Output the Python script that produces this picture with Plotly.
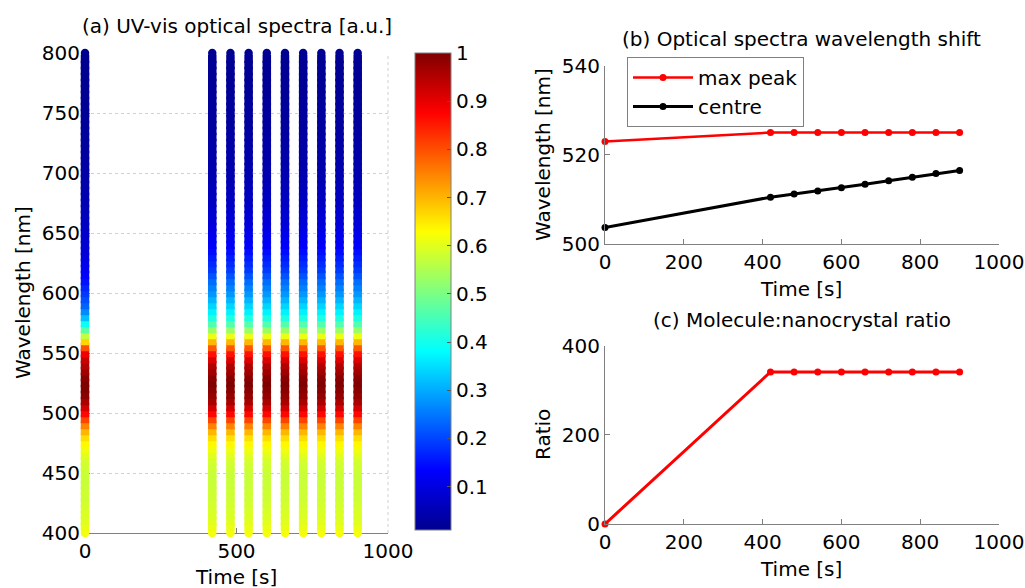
import plotly.graph_objects as go

# ---------------- data ----------------
times = [0, 420, 480, 540, 600, 660, 720, 780, 840, 900]

wavelengths = list(range(400, 801, 5))

# normalised UV-vis spectrum at t = 0 s (400..800 nm, 5 nm step)
spectrum_t0 = [
    0.62, 0.61, 0.60, 0.595, 0.59, 0.585, 0.58, 0.58, 0.575, 0.575,
    0.575, 0.58, 0.585, 0.60, 0.615, 0.635, 0.66, 0.70, 0.75, 0.81,
    0.87, 0.92, 0.96, 0.99, 1.00, 1.00, 0.99, 0.97, 0.95, 0.93,
    0.89, 0.80, 0.67, 0.57, 0.47, 0.39, 0.32, 0.27, 0.23, 0.21,
    0.19, 0.17, 0.15, 0.135, 0.12, 0.11, 0.10, 0.09, 0.085, 0.08,
    0.075, 0.07, 0.065, 0.06, 0.055, 0.05, 0.047, 0.044, 0.041, 0.038,
    0.036, 0.034, 0.032, 0.030, 0.028, 0.026, 0.024, 0.022, 0.021, 0.020,
    0.019, 0.018, 0.017, 0.016, 0.015, 0.014, 0.013, 0.012, 0.011, 0.010,
    0.010,
]

# normalised UV-vis spectrum for the later measurements (420..900 s)
spectrum_later = [
    0.62, 0.61, 0.60, 0.595, 0.59, 0.585, 0.58, 0.58, 0.575, 0.575,
    0.575, 0.58, 0.585, 0.60, 0.615, 0.635, 0.66, 0.70, 0.75, 0.81,
    0.87, 0.92, 0.96, 0.98, 0.99, 1.00, 0.99, 0.97, 0.95, 0.91,
    0.86, 0.79, 0.70, 0.61, 0.53, 0.46, 0.41, 0.37, 0.34, 0.31,
    0.28, 0.26, 0.24, 0.215, 0.19, 0.175, 0.16, 0.145, 0.13, 0.12,
    0.11, 0.10, 0.09, 0.085, 0.08, 0.07, 0.065, 0.06, 0.055, 0.05,
    0.045, 0.042, 0.040, 0.038, 0.036, 0.034, 0.032, 0.030, 0.028, 0.026,
    0.025, 0.024, 0.022, 0.020, 0.019, 0.018, 0.017, 0.016, 0.015, 0.014,
    0.013,
]

max_peak = [523.0, 525.0, 525.0, 525.0, 525.0, 525.0, 525.0, 525.0, 525.0, 525.0]
centre = [503.7, 510.5, 511.2, 511.9, 512.6, 513.4, 514.2, 515.0, 515.8, 516.5]

ratio = [0, 341, 341, 341, 341, 341, 341, 341, 341, 341]

colorbar_ticks = [0.1, 0.2, 0.3, 0.4, 0.5, 0.6, 0.7, 0.8, 0.9, 1]

# ---------------- styling ----------------
W, H = 1025, 588
FONT = "DejaVu Sans"
FS = 20
AXC = "#808080"

def px_x(p):
    return p / W

def px_y(p):
    return 1 - p / H

jet = [
    [0.0, "rgb(0,0,143)"],
    [0.125, "rgb(0,0,255)"],
    [0.375, "rgb(0,255,255)"],
    [0.625, "rgb(255,255,0)"],
    [0.875, "rgb(255,0,0)"],
    [1.0, "rgb(128,0,0)"],
]

# build scatter points for panel (a)
xs, ys, cs, sym = [], [], [], []
for t in times:
    spec = spectrum_t0 if t == 0 else spectrum_later
    n = len(wavelengths)
    for i, (wl, v) in enumerate(zip(wavelengths, spec)):
        xs.append(t)
        ys.append(wl)
        cs.append(v)
        sym.append("circle" if i in (0, n - 1) else "square")

fig = go.Figure()

fig.add_trace(go.Scatter(
    x=xs, y=ys, mode="markers", xaxis="x", yaxis="y",
    marker=dict(size=8.5, color=cs, coloraxis="coloraxis", symbol=sym,
                line=dict(width=0)),
    cliponaxis=False, showlegend=False, hoverinfo="skip",
))

fig.add_trace(go.Scatter(
    x=times, y=max_peak, mode="lines+markers", name="max peak",
    xaxis="x2", yaxis="y2", line=dict(color="#ff0000", width=2.5),
    marker=dict(size=7, color="#ff0000"), cliponaxis=False,
))
fig.add_trace(go.Scatter(
    x=times, y=centre, mode="lines+markers", name="centre",
    xaxis="x2", yaxis="y2", line=dict(color="#000000", width=3),
    marker=dict(size=7, color="#000000"), cliponaxis=False,
))
fig.add_trace(go.Scatter(
    x=times, y=ratio, mode="lines+markers", name="ratio",
    xaxis="x3", yaxis="y3", line=dict(color="#ff0000", width=3),
    marker=dict(size=7, color="#ff0000"), cliponaxis=False, showlegend=False,
))

axis_common = dict(
    showline=True, linecolor=AXC, linewidth=1, ticks="inside", ticklen=5,
    tickcolor=AXC, tickfont=dict(family=FONT, size=FS, color="#000"),
    zeroline=False, mirror=False, automargin=False,
)

fig.update_layout(
    width=W, height=H, autosize=False,
    margin=dict(l=0, r=0, t=0, b=0, pad=0, autoexpand=False),
    paper_bgcolor="white", plot_bgcolor="white",
    font=dict(family=FONT, size=FS, color="#000"),
    coloraxis=dict(
        colorscale=jet, cmin=min(cs), cmax=max(cs),
        colorbar=dict(
            x=px_x(415), xanchor="left", y=px_y(530), yanchor="bottom",
            xpad=0, ypad=0,
            len=(530 - 53) / H, lenmode="fraction", thickness=36,
            thicknessmode="pixels", outlinecolor=AXC, outlinewidth=1,
            tickvals=colorbar_ticks, ticktext=[str(v) for v in colorbar_ticks],
            ticks="inside", ticklen=4, tickcolor="#555",
            tickfont=dict(family=FONT, size=FS, color="#000"),
        ),
    ),
    xaxis=dict(
        domain=[px_x(85), px_x(388)], anchor="y", range=[0, 1000],
        tickvals=[0, 500, 1000], showgrid=False, layer="below traces",
        **axis_common,
    ),
    yaxis=dict(
        domain=[px_y(533), px_y(53)], anchor="x", range=[400, 800],
        tickvals=list(range(400, 801, 50)), showgrid=True,
        gridcolor="#d0d0d0", griddash="dot", gridwidth=1,
        layer="below traces", **axis_common,
    ),
    xaxis2=dict(
        domain=[px_x(605), px_x(999)], anchor="y2", range=[0, 1000],
        tickvals=list(range(0, 1001, 200)), showgrid=False, **axis_common,
    ),
    yaxis2=dict(
        domain=[px_y(244), px_y(65.7)], anchor="x2", range=[500, 540],
        tickvals=[500, 520, 540], showgrid=False, **axis_common,
    ),
    xaxis3=dict(
        domain=[px_x(605), px_x(999)], anchor="y3", range=[0, 1000],
        tickvals=list(range(0, 1001, 200)), showgrid=False, **axis_common,
    ),
    yaxis3=dict(
        domain=[px_y(524), px_y(345.7)], anchor="x3", range=[0, 400],
        tickvals=[0, 200, 400], showgrid=False, **axis_common,
    ),
    legend=dict(
        x=px_x(627), y=px_y(57), xanchor="left", yanchor="top",
        bordercolor=AXC, borderwidth=1, bgcolor="white",
        font=dict(family=FONT, size=FS, color="#000"),
        itemwidth=60, tracegroupgap=0,
    ),
)

# dotted right edge of panel (a)
fig.add_shape(type="line", xref="x domain", yref="y domain",
              x0=1, x1=1, y0=0, y1=1,
              line=dict(color="#d0d0d0", width=1, dash="dot"), layer="below")

def ann(text, x, y, rot=0, size=FS):
    fig.add_annotation(
        text=text, x=px_x(x), y=px_y(y), xref="paper", yref="paper",
        showarrow=False, textangle=rot, xanchor="center", yanchor="middle",
        font=dict(family=FONT, size=size, color="#000"),
    )

ann("(a) UV-vis optical spectra [a.u.]", 236.5, 26)
ann("(b) Optical spectra wavelength shift", 801, 39)
ann("(c) Molecule:nanocrystal ratio", 802, 320)
ann("Wavelength [nm]", 23, 293, rot=-90)
ann("Time [s]", 236, 577)
ann("Wavelength [nm]", 543, 155, rot=-90)
ann("Time [s]", 801, 289)
ann("Ratio", 543, 435, rot=-90)
ann("Time [s]", 801, 569)

fig.write_html(
    "out.html",
    config={"displayModeBar": False},
    post_script="document.body.style.margin='0';document.body.style.overflow='hidden';",
)
